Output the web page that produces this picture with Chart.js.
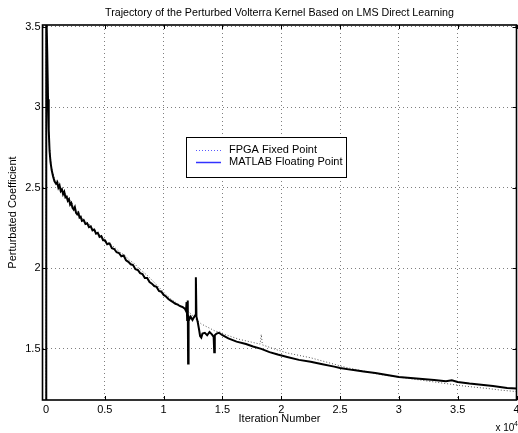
<!DOCTYPE html>
<html><head><meta charset="utf-8">
<script src="https://cdn.jsdelivr.net/npm/chart.js@4/dist/chart.umd.min.js"></script>
<style>html,body{margin:0;padding:0;background:#fff}#wrap{width:518px;height:433px}</style>
</head><body><div id="wrap"><canvas id="c" width="518" height="433"></canvas></div>
<script>
const titleText = 'Trajectory of the Perturbed Volterra Kernel Based on LMS Direct Learning';
const xTitle = 'Iteration Number';
const yTitle = 'Perturbated Coefficient';
const seriesNames = ['FPGA Fixed Point', 'MATLAB Floating Point'];
const xTicks = [0, 5000, 10000, 15000, 20000, 25000, 30000, 35000, 40000];
const xTickLabels = ['0', '0.5', '1', '1.5', '2', '2.5', '3', '3.5', '4'];
const yTicks = [1.5, 2, 2.5, 3, 3.5];
const yTickLabels = ['1.5', '2', '2.5', '3', '3.5'];

const iterMatlab = [0, 20, 100, 170, 230, 300, 380, 480, 600, 720, 850, 950, 1050, 1150, 1250, 1350, 1450, 1550, 1650, 1750, 1850, 1950, 2050, 2150, 2250, 2350, 2450, 2550, 2650, 2750, 2850, 2950, 3050, 3200, 3350, 3500, 3650, 3800, 3950, 4100, 4250, 4400, 4550, 4700, 4850, 5000, 5200, 5400, 5600, 5800, 6000, 6200, 6400, 6600, 6800, 7000, 7200, 7400, 7600, 7800, 8000, 8200, 8400, 8600, 8800, 9000, 9200, 9400, 9600, 9800, 10000, 10200, 10400, 10600, 10800, 11000, 11200, 11400, 11600, 11800, 11900,
  11950, 12000, 12050, 12080, 12120, 12200, 12300, 12450, 12600, 12700, 12740, 12790, 12900, 13000, 13100, 13200, 13300, 13500, 13700, 13900, 14100, 14250, 14300, 14350, 14500, 14700, 15000,
  15500, 16200, 17000, 17600, 18300, 19000, 19700, 20500, 21500, 22500, 23500, 24500, 25000, 26000, 27000, 28000, 29000, 30000, 31000, 32000, 33000, 34000, 34500, 35000, 36000, 37000, 38000, 38600, 39200, 40000];
const valMatlab = [0, 3.62, 3.35, 3.05, 2.86, 2.73, 2.66, 2.61, 2.57, 2.54, 2.525, 2.535, 2.50, 2.515, 2.48, 2.49, 2.46, 2.475, 2.44, 2.445, 2.42, 2.43, 2.395, 2.405, 2.375, 2.365, 2.38, 2.345, 2.335, 2.345, 2.315, 2.32, 2.295, 2.30, 2.275, 2.28, 2.255, 2.26, 2.235, 2.24, 2.215, 2.22, 2.195, 2.20, 2.175, 2.175, 2.15, 2.155, 2.125, 2.12, 2.10, 2.095, 2.075, 2.08, 2.05, 2.04, 2.025, 2.02, 1.995, 1.99, 1.97, 1.965, 1.94, 1.94, 1.915, 1.905, 1.89, 1.885, 1.86, 1.855, 1.835, 1.825, 1.81, 1.80, 1.79, 1.78, 1.775, 1.765, 1.76, 1.75, 1.735,
  1.79, 1.68, 1.80, 1.41, 1.70, 1.685, 1.70, 1.68, 1.70, 1.71, 1.945, 1.70, 1.665, 1.625, 1.58, 1.57, 1.595, 1.60, 1.585, 1.605, 1.59, 1.575, 1.48, 1.585, 1.595, 1.60, 1.585,
  1.565, 1.545, 1.53, 1.515, 1.50, 1.48, 1.465, 1.45, 1.432, 1.42, 1.405, 1.39, 1.382, 1.37, 1.36, 1.35, 1.338, 1.326, 1.32, 1.313, 1.307, 1.30, 1.305, 1.295, 1.285, 1.278, 1.27, 1.264, 1.258, 1.255];

const iterFpga = [0, 20, 100, 170, 230, 300, 400, 500, 650, 800, 950, 1100, 1300, 1500, 1700, 1900, 2100, 2400, 2700, 3000, 3300, 3600, 3900, 4200, 4500, 4800, 5100, 5500, 5900, 6300, 6700, 7100, 7500, 7900, 8300, 8700, 9100, 9500, 9900, 10300, 10700, 11100, 11500, 12000, 12500, 12800, 13200, 13600, 14000, 14400, 14800, 15200, 15800, 16400, 17000, 17600, 18200, 18300, 18400, 19000, 19600, 20500, 21500, 22500, 23500, 24500, 25500, 26500, 27500, 28500, 29500, 30500, 31500, 32500, 33500, 34500, 35500, 36500, 37500, 38600, 39300, 40000];
const valFpga = [0, 3.60, 3.33, 3.03, 2.85, 2.74, 2.67, 2.60, 2.58, 2.53, 2.55, 2.51, 2.50, 2.47, 2.46, 2.43, 2.42, 2.38, 2.35, 2.32, 2.295, 2.28, 2.25, 2.235, 2.21, 2.195, 2.17, 2.15, 2.125, 2.10, 2.08, 2.05, 2.03, 2.00, 1.975, 1.95, 1.92, 1.89, 1.86, 1.83, 1.805, 1.785, 1.765, 1.74, 1.705, 1.68, 1.655, 1.64, 1.625, 1.61, 1.605, 1.59, 1.575, 1.56, 1.55, 1.54, 1.53, 1.59, 1.525, 1.51, 1.495, 1.475, 1.46, 1.445, 1.425, 1.405, 1.385, 1.37, 1.355, 1.34, 1.33, 1.32, 1.31, 1.30, 1.29, 1.28, 1.27, 1.262, 1.255, 1.245, 1.24, 1.235];

const FONT = "'Liberation Sans', Arial, Helvetica, sans-serif";
Chart.defaults.font.family = FONT;
Chart.defaults.font.size = 11;
Chart.defaults.color = '#000';

const toPts = (xs, ys) => xs.map((v, i) => ({x: v, y: ys[i]}));

const decor = {
  id: 'decor',
  afterDraw(chart) {
    const {ctx, chartArea: a, scales: {x, y}} = chart;
    ctx.save();
    ctx.fillStyle = '#000';
    ctx.font = '10.7px ' + FONT;
    ctx.textAlign = 'center';
    ctx.textBaseline = 'middle';
    ctx.fillText(titleText, (a.left + a.right) / 2, 13);
    ctx.strokeStyle = '#000';
    ctx.lineWidth = 1;
    ctx.beginPath();
    xTicks.forEach(v => {
      const px = Math.round(x.getPixelForValue(v)) + 0.5;
      ctx.moveTo(px, a.bottom); ctx.lineTo(px, a.bottom - 4);
      ctx.moveTo(px, a.top); ctx.lineTo(px, a.top + 4);
    });
    yTicks.forEach(v => {
      const py = Math.round(y.getPixelForValue(v)) + 0.5;
      ctx.moveTo(a.left, py); ctx.lineTo(a.left + 4, py);
      ctx.moveTo(a.right, py); ctx.lineTo(a.right - 4, py);
    });
    ctx.stroke();
    ctx.lineWidth = 1.6;
    ctx.strokeRect(a.left, a.top, a.right - a.left, a.bottom - a.top);
    ctx.textAlign = 'left';
    ctx.textBaseline = 'alphabetic';
    ctx.font = '10px ' + FONT;
    ctx.fillText('x 10', 495.5, 430.5);
    ctx.font = '7px ' + FONT;
    ctx.fillText('4', 514, 426);
    const lx = 186, ly = 137, lw = 160, lh = 40;
    ctx.fillStyle = '#fff';
    ctx.fillRect(lx, ly, lw, lh);
    ctx.strokeStyle = '#000';
    ctx.lineWidth = 1;
    ctx.strokeRect(lx + 0.5, ly + 0.5, lw, lh);
    ctx.strokeStyle = 'rgb(90,90,255)';
    ctx.setLineDash([1, 2]);
    ctx.beginPath(); ctx.moveTo(196, 150.5); ctx.lineTo(221, 150.5); ctx.stroke();
    ctx.setLineDash([]);
    ctx.lineWidth = 1.5;
    ctx.strokeStyle = 'rgb(50,50,255)';
    ctx.beginPath(); ctx.moveTo(196, 162.5); ctx.lineTo(221, 162.5); ctx.stroke();
    ctx.fillStyle = '#000';
    ctx.font = '11px ' + FONT;
    ctx.textBaseline = 'middle';
    ctx.fillText(seriesNames[0], 229, 150);
    ctx.fillText(seriesNames[1], 229, 162);
    ctx.restore();
  }
};

new Chart(document.getElementById('c'), {
  type: 'line',
  data: {
    datasets: [
      {label: seriesNames[1], data: toPts(iterMatlab, valMatlab), borderColor: '#000', borderWidth: 2, pointRadius: 0, tension: 0, fill: false},
      {label: seriesNames[0], data: toPts(iterFpga, valFpga), borderColor: '#555', borderWidth: 1, borderDash: [1, 2], pointRadius: 0, tension: 0, fill: false}
    ]
  },
  options: {
    responsive: false,
    animation: false,
    devicePixelRatio: 1,
    layout: {padding: {top: 25, right: 1.5, bottom: 0, left: 0}},
    plugins: {legend: {display: false}, title: {display: false}, tooltip: {enabled: false}},
    scales: {
      x: {
        type: 'linear', min: -300, max: 40000,
        afterBuildTicks: s => { s.ticks = xTicks.map(v => ({value: v})); },
        afterFit: s => { s.height = 33; s.paddingLeft = 0; s.paddingRight = 0; },
        ticks: {padding: 3, maxRotation: 0, autoSkip: false, callback: (v, i) => xTickLabels[i], font: {size: 11}},
        grid: {drawTicks: false, color: 'rgba(0,0,0,0.5)', lineWidth: 1},
        border: {display: false, dash: [1, 3]},
        title: {display: true, text: xTitle, font: {size: 11}, padding: {top: 0, bottom: 7.4}}
      },
      y: {
        type: 'linear', min: 1.183, max: 3.51,
        afterBuildTicks: s => { s.ticks = yTicks.map(v => ({value: v})); },
        afterFit: s => { s.width = 42.5; s.paddingTop = 0; s.paddingBottom = 0; },
        ticks: {padding: 2, autoSkip: false, callback: (v, i) => yTickLabels[i], font: {size: 11}},
        grid: {drawTicks: false, color: 'rgba(0,0,0,0.5)', lineWidth: 1},
        border: {display: false, dash: [1, 3]},
        title: {display: true, text: yTitle, font: {size: 11}, padding: {top: 6.4, bottom: 0}}
      }
    }
  },
  plugins: [decor]
});
</script>
</body></html>
